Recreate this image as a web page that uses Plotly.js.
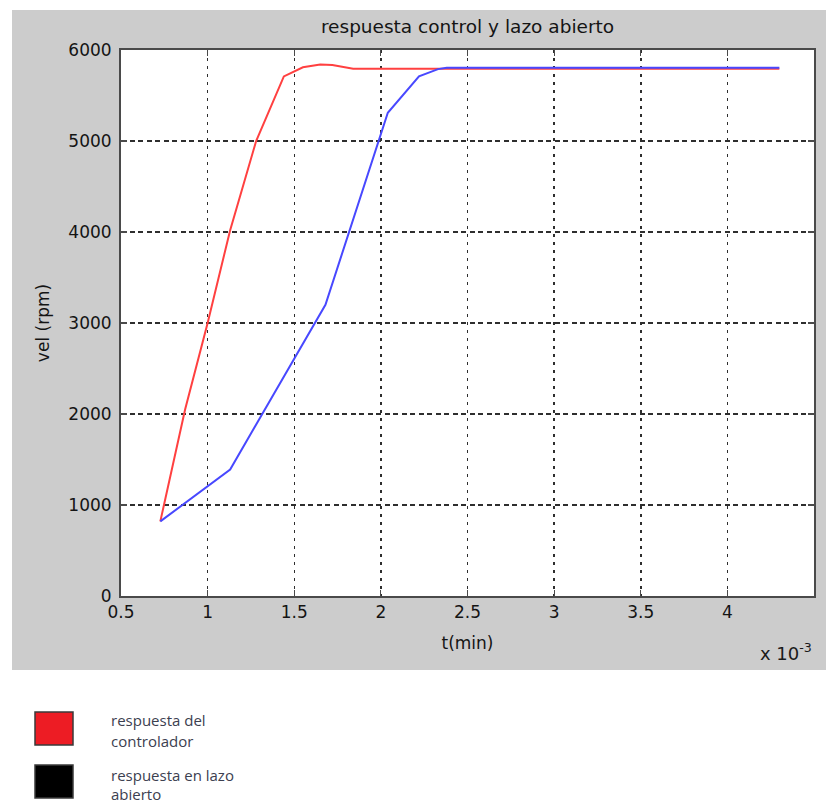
<!DOCTYPE html>
<html>
<head>
<meta charset="utf-8">
<script src="https://cdn.plot.ly/plotly-3.0.1.min.js"></script>
<style>html,body{margin:0;padding:0;background:#fff;}#chart{width:826px;height:804px;}</style>
</head>
<body>
<div id="chart"></div>
<script>
// time in units of 1e-3 min, velocity in rpm
const tControl = [0.727, 0.87, 1.0, 1.13, 1.28, 1.44, 1.55, 1.65, 1.72, 1.84, 4.30];
const velControl = [820, 2050, 3000, 4020, 5000, 5710, 5810, 5840, 5835, 5795, 5795];
const tOpen = [0.727, 1.13, 1.68, 2.04, 2.22, 2.33, 2.38, 4.30];
const velOpen = [820, 1390, 3200, 5310, 5710, 5790, 5805, 5805];
const xTickVals = [0.5, 1, 1.5, 2, 2.5, 3, 3.5, 4, 4.5];
const xTickText = ['0.5', '1', '1.5', '2', '2.5', '3', '3.5', '4', '4.5'];
const yTickVals = [0, 1000, 2000, 3000, 4000, 5000, 6000];
const yTickText = ['0', '1000', '2000', '3000', '4000', '5000', '6000'];
const legendLabels = [['respuesta del', 'controlador'], ['respuesta en lazo', 'abierto']];
const legendColors = ['#ed1c24', '#000000'];

const W = 826, H = 804;
const M = {l: 121, r: 12, t: 50, b: 208};
const PW = W - M.l - M.r, PH = H - M.t - M.b;
const px = v => (v - M.l) / PW;
const py = v => (H - M.b - v) / PH;

const FONT = 'DejaVu Sans, Arial, sans-serif';

const traces = [
  {x: tControl, y: velControl, mode: 'lines', line: {color: 'rgb(255,64,64)', width: 2}, name: 'respuesta del controlador', showlegend: false},
  {x: tOpen, y: velOpen, mode: 'lines', line: {color: 'rgb(72,72,255)', width: 2}, name: 'respuesta en lazo abierto', showlegend: false}
];

const shapes = [
  {type: 'rect', xref: 'paper', yref: 'paper', x0: px(12), x1: px(826), y0: py(670), y1: py(10), fillcolor: '#cccccc', line: {width: 0}, layer: 'below'},
  {type: 'rect', xref: 'paper', yref: 'paper', x0: 0, x1: 1, y0: 0, y1: 1, fillcolor: '#ffffff', line: {width: 0}, layer: 'below'}
];
const annotations = [
  {xref: 'paper', yref: 'paper', x: 1, y: py(652), xanchor: 'right', yanchor: 'middle', text: 'x 10<sup>-3</sup>', showarrow: false, font: {family: FONT, size: 18, color: '#1a1a1a'}}
];
const legendTop = [712, 765];
const legendLineY = [[720, 741], [775, 794]];
legendLabels.forEach((lines, i) => {
  const top = legendTop[i];
  shapes.push({type: 'rect', xref: 'paper', yref: 'paper', x0: px(35), x1: px(73), y0: py(top + 33), y1: py(top), fillcolor: legendColors[i], line: {color: '#3a3a3a', width: 1.5}, layer: 'above'});
  lines.forEach((ln, j) => {
    annotations.push({xref: 'paper', yref: 'paper', x: px(109), y: py(legendLineY[i][j]), xanchor: 'left', yanchor: 'middle', text: ln, showarrow: false, font: {family: 'Open Sans, sans-serif', size: 15, color: '#3c4050'}});
  });
});

const axisCommon = {
  showline: true, mirror: 'ticks', linecolor: '#4a4a4a', linewidth: 2,
  ticks: 'inside', ticklen: 6, tickcolor: '#4a4a4a', tickwidth: 1.2,
  showgrid: true, gridcolor: '#2e2e2e', gridwidth: 1.5, zeroline: false,
  tickfont: {family: FONT, size: 17, color: '#141414'}, tickmode: 'array'
};

const layout = {
  width: W, height: H, margin: M,
  paper_bgcolor: '#ffffff', plot_bgcolor: 'rgba(0,0,0,0)',
  showlegend: false,
  title: {text: 'respuesta control y lazo abierto', font: {family: FONT, size: 18.5, color: '#141414'}, xref: 'paper', x: 0.5, xanchor: 'center', yref: 'container', y: 1 - 27 / H, yanchor: 'middle'},
  xaxis: Object.assign({}, axisCommon, {range: [0.5, 4.5], tickvals: xTickVals, ticktext: xTickText, griddash: '3px,5px', ticklabelstandoff: 0,
    title: {text: 't(min)', font: {family: FONT, size: 17, color: '#141414'}, standoff: 16}}),
  yaxis: Object.assign({}, axisCommon, {range: [0, 6000], tickvals: yTickVals, ticktext: yTickText, griddash: '5px,3.5px', ticklabelstandoff: 4,
    title: {text: 'vel (rpm)', font: {family: FONT, size: 17, color: '#141414'}, standoff: 14}}),
  shapes: shapes,
  annotations: annotations
};

Plotly.newPlot('chart', traces, layout, {displayModeBar: false, staticPlot: true});
</script>
</body>
</html>
